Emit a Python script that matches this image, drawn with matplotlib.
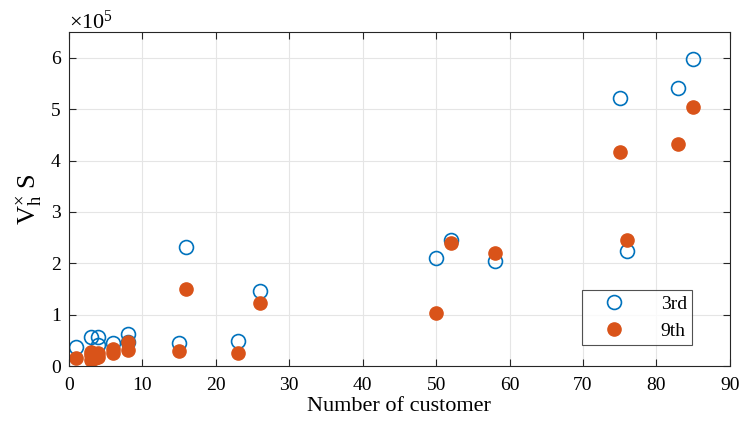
import matplotlib
matplotlib.use('Agg')
import matplotlib.pyplot as plt
import numpy as np

plt.rcParams['font.family'] = ['Liberation Serif', 'DejaVu Serif']
plt.rcParams['mathtext.fontset'] = 'custom'
plt.rcParams['mathtext.rm'] = 'Liberation Serif'
plt.rcParams['mathtext.it'] = 'Liberation Serif:italic'

# customers vs harmonic voltage x S (units of 1e5)
x3 = [1, 3, 4, 4, 6, 8, 8, 15, 16, 23, 26, 50, 52, 58, 75, 76, 83, 85]
y3 = [0.37, 0.56, 0.56, 0.41, 0.45, 0.63, 0.47, 0.45, 2.31, 0.48, 1.47, 2.10, 2.45, 2.05, 5.21, 2.23, 5.42, 5.97]
x9 = [1, 3, 3, 3, 4, 4, 3.5, 6, 6, 8, 8, 15, 16, 23, 26, 50, 52, 58, 75, 76, 83, 85]
y9 = [0.15, 0.12, 0.22, 0.28, 0.18, 0.25, 0.15, 0.34, 0.25, 0.46, 0.32, 0.30, 1.49, 0.25, 1.22, 1.03, 2.40, 2.21, 4.16, 2.46, 4.33, 5.05]

blue = (0, 0.447, 0.741)
orange = (0.85, 0.325, 0.098)

fig = plt.figure(figsize=(7.4, 4.21), dpi=100)
ax = fig.add_axes([0.0932, 0.1306, 0.893, 0.793])

ax.plot(x3, y3, 'o', ls='none', mfc='none', mec=blue, mew=1.2, ms=10, label='3rd')
ax.plot(x9, y9, 'o', ls='none', mfc=orange, mec=orange, ms=9.5, label='9th')

ax.set_xlim(0, 90)
ax.set_ylim(0, 6.5)
ax.set_xticks(np.arange(0, 91, 10))
ax.set_yticks(np.arange(0, 7, 1))
ax.grid(True, color='#e5e5e5', lw=0.8)
ax.set_axisbelow(True)
ax.tick_params(direction='in', labelsize=14, length=5, top=True, right=True, color='#262626')
ax.tick_params(axis='x', pad=8)
ax.tick_params(axis='y', pad=6)
for s in ax.spines.values():
    s.set_color('#262626')
    s.set_linewidth(0.8)

ax.set_xlabel('Number of customer', fontsize=16, labelpad=2)
ax.set_ylabel(r'V$_\mathrm{h}^{\times}$ S', fontsize=19, labelpad=5)
ax.text(0, 0.995, r'$\times10^5$', transform=ax.transAxes, fontsize=16, va='bottom', ha='left')

leg = ax.legend(loc='lower right', bbox_to_anchor=(0.9425, 0.063), fontsize=14,
                frameon=True, fancybox=False, edgecolor='#262626', borderpad=0.25,
                handlelength=2.8, handletextpad=1.0, borderaxespad=0, labelspacing=0.5)
leg.get_frame().set_linewidth(0.8)

fig.savefig('out.png', dpi=100)
